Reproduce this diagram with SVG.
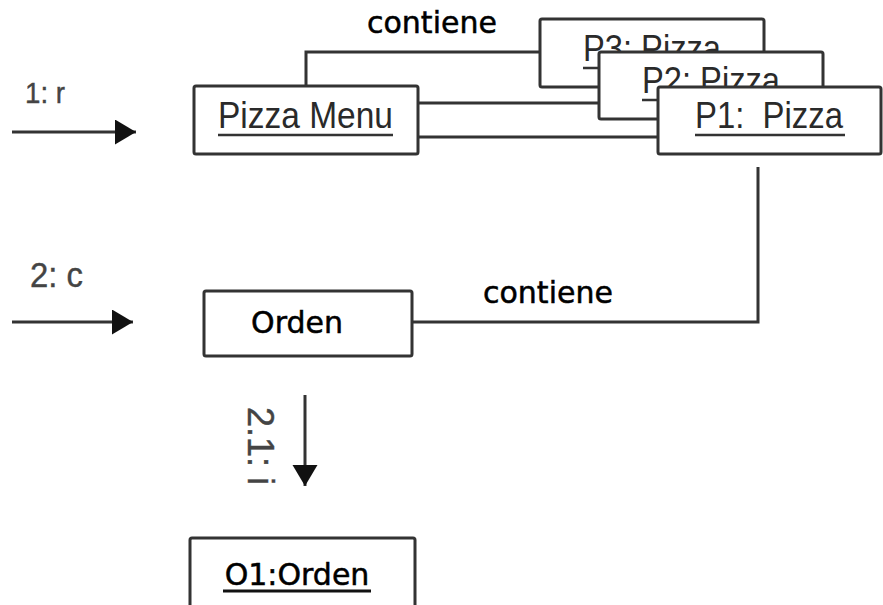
<svg xmlns="http://www.w3.org/2000/svg" width="883" height="605" viewBox="0 0 883 605">
<style>
.box{fill:#fff;stroke:#333;stroke-width:3}
.ln{fill:none;stroke:#333;stroke-width:3}
.ul{stroke:#333;stroke-width:2.5}
.obj{font-family:"Liberation Sans",Arial,sans-serif;font-size:37px;fill:#2a2a2a}
.lbl{font-family:"DejaVu Sans",Verdana,sans-serif;font-size:30px;fill:#000;stroke:#000;stroke-width:0.5}
.msg{font-family:"Liberation Sans",Arial,sans-serif;fill:#444;stroke:#444;stroke-width:0.4}
</style>
<defs>
<marker id="ah" markerUnits="userSpaceOnUse" markerWidth="22" markerHeight="26" refX="21" refY="12.5" orient="auto">
<path d="M0,0 L21,12.5 L0,25 z" fill="#111"/>
</marker>
</defs>
<rect width="883" height="605" fill="#fff"/>
<g id="connectors">
<polyline class="ln" points="306,86 306,52 540,52"/>
<line class="ln" x1="418" y1="103" x2="599" y2="103"/>
<line class="ln" x1="418" y1="137" x2="658" y2="137"/>
<polyline class="ln" points="758,167 758,322 412,322"/>
<text class="lbl" x="367" y="33">contiene</text>
<text class="lbl" x="483" y="303">contiene</text>
<line class="ln" x1="12" y1="132" x2="136" y2="132" marker-end="url(#ah)"/>
<text class="msg" x="25" y="103" font-size="30" textLength="40" lengthAdjust="spacingAndGlyphs">1: r</text>
<line class="ln" x1="12" y1="322" x2="133" y2="322" marker-end="url(#ah)"/>
<text class="msg" x="30" y="287" font-size="35" textLength="53" lengthAdjust="spacingAndGlyphs">2: c</text>
<line class="ln" x1="305" y1="395" x2="305" y2="486" marker-end="url(#ah)"/>
<text class="msg" font-size="36" textLength="78" lengthAdjust="spacingAndGlyphs" transform="translate(248,407) rotate(90)">2.1: i</text>
</g>
<g id="pizza-menu">
<rect class="box" x="194" y="86" width="224" height="68" rx="2"/>
<text class="obj" x="218" y="128" textLength="175" lengthAdjust="spacingAndGlyphs">Pizza Menu</text>
<line class="ul" x1="218" y1="135" x2="393" y2="135"/>
</g>
<g id="p3">
<rect class="box" x="540" y="19" width="224" height="68" rx="2"/>
<text class="obj" x="583" y="61" textLength="138" lengthAdjust="spacingAndGlyphs">P3: Pizza</text>
<line class="ul" x1="583" y1="68" x2="721" y2="68"/>
</g>
<g id="p2">
<rect class="box" x="599" y="52" width="224" height="67" rx="2"/>
<text class="obj" x="642" y="93" textLength="138" lengthAdjust="spacingAndGlyphs">P2: Pizza</text>
<line class="ul" x1="642" y1="100" x2="780" y2="100"/>
</g>
<g id="p1">
<rect class="box" x="658" y="87" width="223" height="67" rx="2"/>
<text class="obj" x="695" y="128" textLength="148" lengthAdjust="spacingAndGlyphs" xml:space="preserve">P1:  Pizza</text>
<line class="ul" x1="695" y1="135" x2="845" y2="135"/>
</g>
<g id="orden">
<rect class="box" x="204" y="291" width="208" height="65" rx="2"/>
<text class="lbl" x="297" y="333" text-anchor="middle">Orden</text>
</g>
<g id="o1">
<rect class="box" x="190" y="538" width="225" height="80" rx="2"/>
<text class="lbl" x="297" y="585" text-anchor="middle">O1:Orden</text>
<line x1="223" y1="591" x2="371" y2="591" stroke="#111" stroke-width="3"/>
</g>
</svg>
